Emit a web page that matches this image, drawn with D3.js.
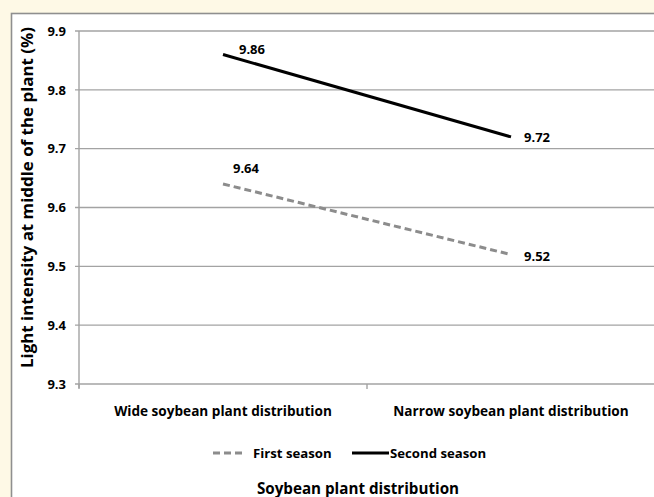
<!DOCTYPE html>
<html><head><meta charset="utf-8">
<script src="https://cdn.jsdelivr.net/npm/d3@7"></script>
<style>
html,body{margin:0;padding:0;background:#fef9e6;}
svg{display:block;}
text{font-family:"Open Sans",Lato,sans-serif;font-weight:bold;fill:#000;}
</style></head>
<body>
<svg id="chart" width="654" height="497"></svg>
<script>
const categories = ["Wide soybean plant distribution", "Narrow soybean plant distribution"];
const seriesNames = ["First season", "Second season"];
const firstSeason = [9.64, 9.52];
const secondSeason = [9.86, 9.72];
const yTicks = [9.3, 9.4, 9.5, 9.6, 9.7, 9.8, 9.9];
const yTitle = "Light intensity at middle of the plant (%)";
const xTitle = "Soybean plant distribution";

(function () {
const svg = d3.select("#chart");
const W = 654, H = 497;
const FONT = "\"Open Sans\",Lato,sans-serif";
// frame
svg.append("rect").attr("x", 11.5).attr("y", 13.5).attr("width", W + 20).attr("height", H + 20)
  .attr("fill", "#fff").attr("stroke", "#8f8f8f").attr("stroke-width", 1.6);

const pL = 79, pR = 655, pT = 31, pB = 384;
const x = d3.scaleBand().domain(categories).range([pL, pR]).padding(0);
const y = d3.scaleLinear().domain([9.3, 9.9]).range([pB, pT]);

// gridlines
svg.append("g").selectAll("line").data(yTicks).join("line")
  .attr("x1", pL - 4).attr("x2", W).attr("y1", d => y(d)).attr("y2", d => y(d))
  .attr("stroke", "#a3a3a3").attr("stroke-width", 1.4);

// y axis
const yAxis = d3.axisLeft(y).tickValues(yTicks).tickFormat(d3.format(".1f")).tickSize(0).tickPadding(13);
const ya = svg.append("g").attr("transform", `translate(${pL},0)`).call(yAxis);
ya.select(".domain").remove();
ya.selectAll("text").style("font-size", "13px").style("font-family", FONT).style("font-weight", "bold").attr("fill", "#000");
svg.append("line").attr("x1", pL).attr("x2", pL).attr("y1", pT).attr("y2", pB + 4)
  .attr("stroke", "#a3a3a3").attr("stroke-width", 1.4);

// x axis ticks
const xb = [pL, pL + x.bandwidth(), pR];
svg.append("g").selectAll("line").data(xb).join("line")
  .attr("x1", d => d).attr("x2", d => d).attr("y1", pB).attr("y2", pB + 5)
  .attr("stroke", "#a3a3a3").attr("stroke-width", 1.4);
svg.append("g").selectAll("text").data(categories).join("text")
  .attr("x", d => x(d) + x.bandwidth() / 2).attr("y", 416)
  .attr("text-anchor", "middle").style("font-size", "13.6px").text(d => d);

// lines
const series = [
  {name: seriesNames[0], values: firstSeason, color: "#8c8c8c", dash: "7,4"},
  {name: seriesNames[1], values: secondSeason, color: "#000", dash: null}
];
const line = d3.line().x((d, i) => x(categories[i]) + x.bandwidth() / 2).y(d => y(d));
series.forEach(s => {
  svg.append("path").datum(s.values).attr("d", line).attr("fill", "none")
    .attr("stroke", s.color).attr("stroke-width", 3).attr("stroke-dasharray", s.dash);
});

// data labels
const labelOffsets = [[{dx: 23, dy: -11}, {dx: 13, dy: 6}], [{dx: 29, dy: -1}, {dx: 13, dy: 5}]];
series.forEach((s, si) => {
  s.values.forEach((v, i) => {
    const cx = x(categories[i]) + x.bandwidth() / 2;
    const o = labelOffsets[si][i];
    svg.append("text").attr("x", cx + o.dx).attr("y", y(v) + o.dy)
      .attr("text-anchor", i === 0 ? "middle" : "start").style("font-size", "13px").text(d3.format(".2f")(v));
  });
});

// legend
const lg = svg.append("g");
lg.append("line").attr("x1", 213).attr("x2", 246).attr("y1", 453).attr("y2", 453)
  .attr("stroke", series[0].color).attr("stroke-width", 3).attr("stroke-dasharray", series[0].dash);
lg.append("text").attr("x", 253).attr("y", 458).style("font-size", "13.2px").text(seriesNames[0]);
lg.append("line").attr("x1", 352).attr("x2", 389).attr("y1", 453).attr("y2", 453)
  .attr("stroke", series[1].color).attr("stroke-width", 3);
lg.append("text").attr("x", 390).attr("y", 458).style("font-size", "13.2px").text(seriesNames[1]);

// titles
svg.append("text").attr("x", 358).attr("y", 494).attr("text-anchor", "middle").style("font-size", "15.2px").text(xTitle);
svg.append("text").attr("transform", "translate(33,368) rotate(-90)")
  .attr("text-anchor", "start").attr("textLength", 341).attr("lengthAdjust", "spacingAndGlyphs")
  .style("font-size", "15.5px").text(yTitle);
})();
</script>
</body></html>
